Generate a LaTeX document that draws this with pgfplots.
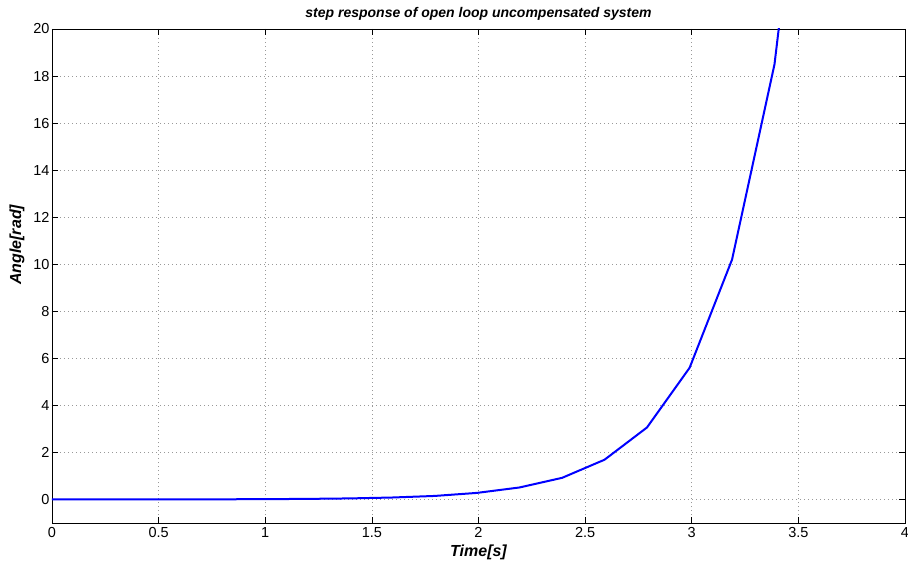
\documentclass[border=0pt]{standalone}
\usepackage{fontspec}
\setmainfont{Liberation Sans}
\usepackage{pgfplots}
\pgfplotsset{compat=1.18}
\begin{document}
\begin{tikzpicture}
\begin{axis}[
  name=ax,
  scale only axis,
  width=853pt, height=494pt,
  xmin=0, xmax=4, ymin=-1, ymax=20,
  xtick={0,0.5,...,4},
  ytick={0,2,...,20},
  tick align=inside,
  major tick length=6pt,
  tick style={black, line width=0.6pt},
  axis line style={black, line width=0.8pt},
  grid=major,
  grid style={gray!80, line width=0.6pt, dash pattern=on 1pt off 3pt},
  /pgf/number format/assume math mode=true,
  tick label style={font=\fontsize{14.5}{16}\selectfont},
  xticklabel style={yshift=-1pt},
  yticklabel style={xshift=1pt},
  title={step response of open loop uncompensated system},
  title style={font=\fontsize{14}{16}\selectfont\bfseries\itshape, at={(rel axis cs:0.5,1)}, anchor=base, yshift=5pt},
  xlabel={Time[s]},
  ylabel={Angle[rad]},
  label style={font=\fontsize{16}{18}\selectfont\bfseries\itshape},
  xlabel style={at={(rel axis cs:0.5,0)}, anchor=base, yshift=-33pt},
  ylabel style={at={(rel axis cs:0,0.563)}, anchor=center, yshift=35pt},
  clip=true,
]
\addplot[blue, line width=2pt, line join=round] coordinates {
(0.000,0.000) (0.199,0.001) (0.399,0.002) (0.598,0.004) (0.797,0.0075)
(0.997,0.014) (1.196,0.025) (1.395,0.045) (1.594,0.083) (1.794,0.150)
(1.993,0.280) (2.192,0.510) (2.392,0.920) (2.591,1.690) (2.790,3.060)
(2.990,5.600) (3.189,10.20) (3.388,18.50) (3.587,33.60)
};
\end{axis}
\pgfresetboundingbox
\path[use as bounding box] ([shift={(-52pt,-41pt)}]ax.south west) rectangle ([shift={(3pt,29pt)}]ax.north east);
\end{tikzpicture}
\end{document}
